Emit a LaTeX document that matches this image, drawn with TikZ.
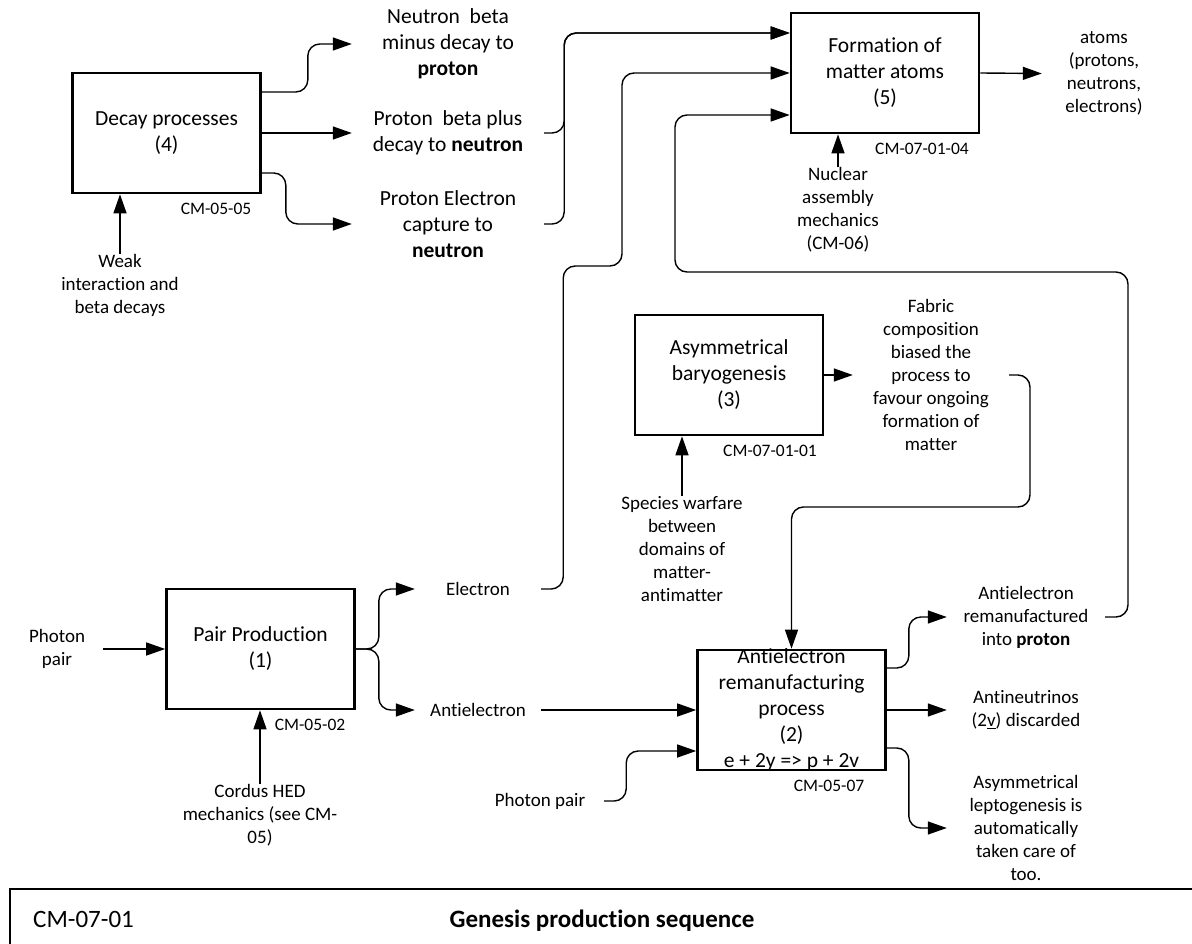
\documentclass[tikz,border=0pt]{standalone}
\usepackage{fontspec}
\setmainfont{Carlito}[Ligatures=NoCommon]
\usetikzlibrary{arrows.meta, positioning}

\begin{document}
\begin{tikzpicture}[x=1pt, y=-1pt]

  % Define styles
  \tikzstyle{proc} = [rectangle, draw, line width=2.6pt, minimum width=188pt, minimum height=120pt, inner sep=2pt, align=center, font=\fontsize{21.5}{26}\selectfont]
  \tikzstyle{big_lbl} = [align=center, inner sep=0pt, font=\fontsize{21.5}{26}\selectfont]
  \tikzstyle{lbl} = [align=center, inner sep=0pt, font=\fontsize{19}{23}\selectfont]
  \tikzstyle{refcode} = [inner sep=0pt, font=\fontsize{17.5}{21}\selectfont]
  \tikzstyle{conn} = [draw, line width=1.4pt, rounded corners=12pt, -{Triangle[length=19pt, width=13pt]}]

  \useasboundingbox (0,0) rectangle (1192,944);

  % Process boxes
  \node[proc] (decay) at (166.5,133) {Decay processes\\(4)};
  \node[proc] (formation) at (885,73) {Formation of\\matter atoms\\(5)};
  \node[proc] (baryo) at (729,375) {Asymmetrical\\baryogenesis\\(3)};
  \node[proc] (pair) at (260.5,649) {Pair Production\\(1)};
  \node[proc] (anti) at (791.5,710) {};
  \node[big_lbl] at (anti) {Antielectron\\remanufacturing\\process\\(2)\\e + 2y => p + 2v};

  % Decay processes (4)
  \node[big_lbl, minimum width=192pt] (nbeta) at (448,44) {Neutron~ beta\\minus decay to\\\textbf{proton}};
  \node[big_lbl, minimum width=192pt] (pbeta) at (448,133) {Proton~ beta plus\\decay to \textbf{neutron}};
  \node[big_lbl, minimum width=192pt] (pecap) at (448,224) {Proton Electron\\capture to\\\textbf{neutron}};
  \node[lbl] (weak) at (120,285) {Weak\\interaction and\\beta decays};
  \node[refcode] at (216,209) {CM-05-05};

  \draw[conn] ([yshift=41pt]decay.east) -- ++(46,0) |- (nbeta.west);
  \draw[conn] (decay.east) -- (pbeta.west);
  \draw[conn] ([yshift=-40pt]decay.east) -- ++(24,0) |- (pecap.west);
  \draw[conn] (weak.north) -- (weak.north |- decay.south);

  % Formation of matter atoms (5)
  \node[lbl, minimum width=124pt] (atoms) at (1104,73.5) {atoms\\(protons,\\neutrons,\\electrons)};
  \node[lbl] (nuclear) at (838,210) {Nuclear\\assembly\\mechanics\\(CM-06)};
  \node[refcode] at (922,149) {CM-07-01-04};

  \draw[conn] (pbeta.east) -- ++(20,0) |- ([yshift=40pt]formation.west);
  \draw[conn] (pecap.east) -- ++(20,0) |- ([yshift=40pt]formation.west);
  \draw[conn] (formation.east) -- (atoms.west);
  \draw[conn] (nuclear.north) -- (nuclear.north |- formation.south);

  % Asymmetrical baryogenesis (3)
  \node[lbl, minimum width=156pt] (fabric) at (931,375) {Fabric\\composition\\biased the\\process to\\favour ongoing\\formation of\\matter};
  \node[lbl] (species) at (682,549) {Species warfare\\between\\domains of\\matter-\\antimatter};
  \node[refcode] at (770,451) {CM-07-01-01};

  \draw[conn] (baryo.east) -- (fabric.west);
  \draw[conn] (species.north) -- (species.north |- baryo.south);
  \coordinate (fjog) at (1030,507);
  \draw[conn] (fabric.east) -| (fjog) -| (anti.north);

  % Pair Production (1)
  \node[lbl, minimum width=92pt] (photon1) at (57,649) {Photon\\pair};
  \node[lbl, minimum width=126pt] (elec) at (478,589) {Electron};
  \node[lbl, minimum width=126pt] (antilbl) at (478,710) {Antielectron};
  \node[lbl] (cordus) at (260,815) {Cordus HED\\mechanics (see CM-\\05)};
  \node[refcode] at (310,725) {CM-05-02};

  \draw[conn] (photon1.east) -- (pair.west);
  \draw[conn] (cordus.north) -- (cordus.north |- pair.south);
  \draw[conn] (pair.east) -- ++(23,0) |- (elec.west);
  \draw[conn] (pair.east) -- ++(23,0) |- (antilbl.west);

  \coordinate (ejog) at (622,266);
  \draw[conn] (elec.east) -- ++(22,0) |- (ejog) |- (formation.west);

  % Antielectron remanufacturing (2)
  \node[lbl, minimum width=128pt] (photon2) at (540,801) {Photon pair};
  \node[lbl, minimum width=158pt] (remanu) at (1026,617) {Antielectron\\remanufactured\\into \textbf{proton}};
  \node[lbl, minimum width=158pt] (discard) at (1026,710) {Antineutrinos\\(2\underline{v}) discarded};
  \node[lbl, minimum width=158pt] (lepto) at (1026,828) {Asymmetrical\\leptogenesis is\\automatically\\taken care of\\too.};
  \node[refcode] at (829,786) {CM-05-07};

  \draw[conn] (antilbl.east) -- (anti.west);
  \draw[conn] (photon2.east) -- ++(22,0) |- ([yshift=-41pt]anti.west);
  \draw[conn] ([yshift=42pt]anti.east) -- ++(22,0) |- (remanu.west);
  \draw[conn] (anti.east) -- (discard.west);
  \draw[conn] ([yshift=-38pt]anti.east) -- ++(22,0) |- (lepto.west);

  \coordinate (rjog) at (1128,272);
  \coordinate (rleft) at (675,115);
  \draw[conn] (remanu.east) -| (rjog) -| (rleft) -- (rleft -| formation.west);

  % Title bar
  \draw[line width=2.8pt] (10,960) |- (1210,889);
  \node[anchor=base west, inner sep=0pt, font=\fontsize{25}{30}\selectfont] (barcode) at (33,927) {CM-07-01};
  \node[anchor=base, inner sep=0pt, font=\fontsize{25}{30}\selectfont\bfseries] (bartitle) at (602,927) {Genesis production sequence};

\end{tikzpicture}
\end{document}
